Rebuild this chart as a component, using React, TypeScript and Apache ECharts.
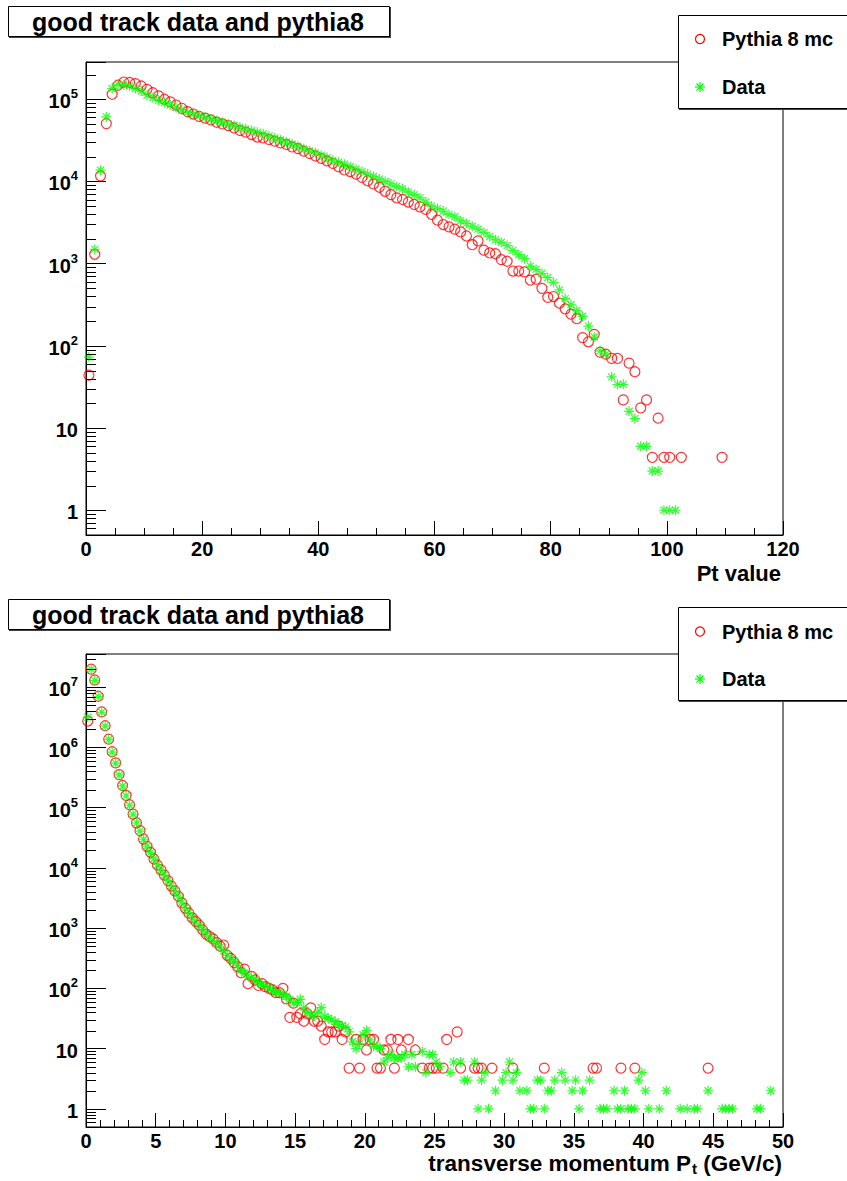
import React, { useEffect, useRef } from 'react';
import * as echarts from 'echarts';

const FONT = '"Liberation Sans", Arial, Helvetica, sans-serif';
const RED = '#ff0000';
const GREEN = '#00ff00';
const W = 847;
const H = 1181;

const titleText = 'good track data and pythia8';
const legendLabels = ['Pythia 8 mc', 'Data'];
const topXTitle = 'Pt value';
const bottomXTitleMain = 'transverse momentum P';
const bottomXTitleSub = 't';
const bottomXTitleEnd = ' (GeV/c)';

const topXRange = [0, 120];
const topXInterval = 20;
const topYRange = [0.5, 2.84e5];
const bottomXRange = [0, 50];
const bottomXInterval = 5;
const bottomYRange = [0.5, 3.57e7];

// Top panel: Pythia 8 MC (bin centre, content)
const topMc: number[][] = [
  [0.5, 44], [1.5, 1300], [2.5, 11700], [3.5, 50600], [4.5, 115000], [5.5, 148000], [6.5, 162000], [7.5, 160000], [8.5, 155000], [9.5, 145000],
  [10.5, 132000], [11.5, 120000], [12.5, 110000], [13.5, 100000], [14.5, 93000], [15.5, 85000], [16.5, 77600], [17.5, 70800], [18.5, 66100], [19.5, 61700],
  [20.5, 58900], [21.5, 56200], [22.5, 52500], [23.5, 50100], [24.5, 47900], [25.5, 44700], [26.5, 41700], [27.5, 39800], [28.5, 37200], [29.5, 34700],
  [30.5, 33900], [31.5, 32400], [32.5, 30900], [33.5, 29500], [34.5, 28200], [35.5, 26300], [36.5, 25100], [37.5, 23400], [38.5, 21900], [39.5, 20400],
  [40.5, 19100], [41.5, 17800], [42.5, 16600], [43.5, 15100], [44.5, 13800], [45.5, 13200], [46.5, 12300], [47.5, 11200], [48.5, 10200], [49.5, 9330],
  [50.5, 8510], [51.5, 7590], [52.5, 6920], [53.5, 6310], [54.5, 6030], [55.5, 5620], [56.5, 5250], [57.5, 4900], [58.5, 4570], [59.5, 3980],
  [60.5, 3390], [61.5, 2990], [62.5, 2800], [63.5, 2630], [64.5, 2430], [65.5, 2170], [66.5, 1700], [67.5, 1890], [68.5, 1460], [69.5, 1350],
  [70.5, 1320], [71.5, 1120], [72.5, 1070], [73.5, 813], [74.5, 813], [75.5, 794], [76.5, 631], [77.5, 646], [78.5, 501], [79.5, 389],
  [80.5, 398], [81.5, 331], [82.5, 282], [83.5, 243], [84.5, 214], [85.5, 126], [86.5, 112], [87.5, 138], [88.5, 83.6], [89.5, 79.2],
  [90.5, 70.4], [91.5, 70.4], [92.5, 22], [93.5, 61.6], [94.5, 48.4], [95.5, 17.6], [96.5, 22], [97.5, 4.4], [98.5, 13.2], [99.5, 4.4],
  [100.5, 4.4], [102.5, 4.4], [109.5, 4.4],
];

// Top panel: Data
const topData: number[][] = [
  [0.5, 73], [1.5, 1490], [2.5, 13700], [3.5, 61000], [4.5, 135000], [5.5, 152000], [6.5, 150000], [7.5, 145000], [8.5, 135000], [9.5, 126000],
  [10.5, 112000], [11.5, 105000], [12.5, 97700], [13.5, 91200], [14.5, 85100], [15.5, 79400], [16.5, 74100], [17.5, 69200], [18.5, 66100], [19.5, 63100],
  [20.5, 60300], [21.5, 57500], [22.5, 55000], [23.5, 52500], [24.5, 50100], [25.5, 47900], [26.5, 45700], [27.5, 43700], [28.5, 41700], [29.5, 39800],
  [30.5, 38000], [31.5, 35900], [32.5, 33900], [33.5, 32000], [34.5, 30200], [35.5, 28500], [36.5, 26900], [37.5, 25100], [38.5, 23700], [39.5, 22400],
  [40.5, 20900], [41.5, 19500], [42.5, 18200], [43.5, 17200], [44.5, 16200], [45.5, 15100], [46.5, 14100], [47.5, 13200], [48.5, 12300], [49.5, 11500],
  [50.5, 10700], [51.5, 10000], [52.5, 9330], [53.5, 8710], [54.5, 8130], [55.5, 7410], [56.5, 6920], [57.5, 6310], [58.5, 5620], [59.5, 5010],
  [60.5, 4680], [61.5, 4370], [62.5, 3980], [63.5, 3720], [64.5, 3310], [65.5, 3090], [66.5, 2850], [67.5, 2630], [68.5, 2400], [69.5, 2140],
  [70.5, 1950], [71.5, 1820], [72.5, 1660], [73.5, 1450], [74.5, 1290], [75.5, 1150], [76.5, 933], [77.5, 851], [78.5, 759], [79.5, 676],
  [80.5, 589], [81.5, 479], [82.5, 376], [83.5, 316], [84.5, 269], [85.5, 229], [86.5, 174], [87.5, 128], [88.5, 87], [89.5, 79],
  [90.5, 42], [91.5, 34], [92.5, 34], [93.5, 16], [94.5, 13], [95.5, 6], [96.5, 6], [97.5, 3], [98.5, 3], [99.5, 1],
  [100.5, 1], [101.5, 1],
];

// Bottom panel: Pythia 8 MC
const bottomMc: number[][] = [
  [0.125, 2.75e6], [0.375, 2.0e7], [0.625, 1.32e7], [0.875, 7.1e6], [1.125, 3.9e6], [1.375, 2.3e6], [1.625, 1.38e6], [1.875, 8.5e5],
  [2.125, 5.56e5], [2.375, 3.55e5], [2.625, 2.34e5], [2.875, 1.6e5], [3.125, 1.12e5], [3.375, 7.85e4], [3.625, 5.62e4], [3.875, 4.17e4],
  [4.125, 3.02e4], [4.375, 2.29e4], [4.625, 1.82e4], [4.875, 1.41e4], [5.125, 1.12e4], [5.375, 9330], [5.625, 7590], [5.875, 6170],
  [6.125, 5010], [6.375, 4170], [6.625, 3390], [6.875, 2630], [7.125, 2140], [7.375, 1780], [7.625, 1480], [7.875, 1290],
  [8.125, 1120], [8.375, 933], [8.625, 794], [8.875, 724], [9.125, 661], [9.375, 575], [9.625, 501], [9.875, 525],
  [10.125, 355], [10.375, 316], [10.625, 269], [10.875, 229], [11.125, 182], [11.375, 209], [11.625, 120], [11.875, 158],
  [12.125, 138], [12.375, 112], [12.625, 120], [12.875, 107], [13.125, 100], [13.375, 95], [13.625, 85], [13.875, 85],
  [14.125, 100], [14.375, 67], [14.625, 33], [14.875, 57], [15.125, 33], [15.375, 38], [15.625, 28.5], [15.875, 38],
  [16.125, 47.5], [16.375, 28.5], [16.625, 28.5], [16.875, 23.7], [17.125, 14.2], [17.375, 19], [17.625, 19], [17.875, 19],
  [18.125, 23.7], [18.375, 14.2], [18.625, 19], [18.875, 4.75], [19.375, 14.2], [19.625, 4.75], [19.875, 14.2],
  [20.125, 9.5], [20.375, 14.2], [20.625, 14.2], [20.875, 4.75], [21.125, 4.75], [21.375, 9.5], [21.625, 9.5], [21.875, 14.2],
  [22.125, 4.75], [22.375, 14.2], [22.625, 9.5], [23.125, 14.2], [23.625, 9.5], [24.125, 4.75], [24.625, 4.75], [24.875, 4.75],
  [25.125, 4.75], [25.625, 4.75], [25.875, 14.2], [26.625, 19], [26.875, 4.75], [27.875, 4.75], [28.125, 4.75], [28.375, 4.75],
  [29.125, 4.75], [30.625, 4.75], [32.875, 4.75], [36.375, 4.75], [36.625, 4.75], [38.375, 4.75], [39.375, 4.75], [44.625, 4.75],
];

// Bottom panel: Data
const bottomData: number[][] = [
  [0.125, 3.2e6], [0.375, 2.0e7], [0.625, 1.3e7], [0.875, 7.0e6], [1.125, 3.85e6], [1.375, 2.28e6], [1.625, 1.36e6], [1.875, 8.4e5],
  [2.125, 5.5e5], [2.375, 3.5e5], [2.625, 2.3e5], [2.875, 1.58e5], [3.125, 1.1e5], [3.375, 7.8e4], [3.625, 5.6e4], [3.875, 4.1e4],
  [4.125, 3.0e4], [4.375, 2.3e4], [4.625, 1.8e4], [4.875, 1.42e4], [5.125, 1.13e4], [5.375, 9200], [5.625, 7600], [5.875, 6200],
  [6.125, 5000], [6.375, 4100], [6.625, 3400], [6.875, 2700], [7.125, 2200], [7.375, 1800], [7.625, 1500], [7.875, 1280],
  [8.125, 1100], [8.375, 950], [8.625, 820], [8.875, 710], [9.125, 620], [9.375, 560], [9.625, 480], [9.875, 420],
  [10.125, 355], [10.375, 300], [10.625, 285], [10.875, 240], [11.125, 200], [11.375, 180], [11.625, 160], [11.875, 150],
  [12.125, 141], [12.375, 125], [12.625, 115], [12.875, 108], [13.125, 104], [13.375, 92], [13.625, 85], [13.875, 87],
  [14.125, 78], [14.375, 74], [14.625, 65], [14.875, 57], [15.125, 58], [15.375, 66], [15.625, 48], [15.875, 40],
  [16.125, 36], [16.375, 35], [16.625, 40], [16.875, 48], [17.125, 34], [17.375, 32], [17.625, 30], [17.875, 28],
  [18.125, 25], [18.375, 24], [18.625, 23], [18.875, 19], [19.125, 13], [19.375, 10], [19.625, 12], [19.875, 17],
  [20.125, 20], [20.375, 14], [20.625, 11], [20.875, 11], [21.125, 10], [21.375, 6], [21.625, 7], [21.875, 8],
  [22.125, 7], [22.375, 7], [22.625, 7], [22.875, 8], [23.125, 5], [23.375, 8], [23.625, 5], [24.125, 9],
  [24.375, 4], [24.625, 8], [24.875, 8], [25.125, 6], [25.375, 5], [26.125, 4], [26.375, 6], [26.875, 6],
  [27.125, 3], [27.375, 3], [27.875, 6], [28.125, 1], [28.375, 3], [28.625, 4], [28.875, 1], [29.375, 2],
  [29.875, 3], [30.125, 4], [30.375, 6], [30.625, 3], [30.875, 4], [31.125, 2], [31.625, 2], [31.875, 1],
  [32.125, 1], [32.375, 3], [32.625, 3], [32.875, 1], [33.125, 2], [33.375, 2], [33.625, 3], [34.125, 4],
  [34.375, 3], [34.875, 2], [35.125, 3], [35.375, 1], [35.625, 2], [36.125, 3], [36.875, 1], [37.125, 1],
  [37.375, 1], [37.875, 2], [38.125, 1], [38.375, 1], [38.625, 2], [38.875, 1], [39.125, 1], [39.375, 1],
  [39.625, 3], [39.875, 4], [40.125, 2], [40.375, 1], [41.125, 1], [41.625, 2], [42.625, 1], [43.125, 1],
  [43.625, 1], [43.875, 1], [44.625, 2], [45.625, 1], [45.875, 1], [46.125, 1], [46.375, 1], [48.125, 1],
  [48.375, 1], [49.125, 2],
];

const STAR = 'path://M5 0L5 10M0 5L10 5M1.5 1.5L8.5 8.5M8.5 1.5L1.5 8.5';

const GRIDS = [
  { left: 86, top: 62, width: 697, height: 473 },
  { left: 86, top: 654, width: 697, height: 473 },
];

function yLabel(v: number): string {
  const e = Math.round(Math.log10(v));
  if (Math.abs(v - Math.pow(10, e)) / v > 1e-6) return '';
  if (e === 0) return '{b|1}';
  if (e === 1) return '{b|10}';
  return `{b|10}{s|${e}}`;
}

function xAxisOpt(gridIndex: number, range: number[], interval: number, minorSplit: number) {
  return {
    gridIndex,
    type: 'value',
    min: range[0],
    max: range[1],
    interval,
    axisLine: { show: true, onZero: false, lineStyle: { color: '#000', width: 1 } },
    axisTick: { show: true, inside: true, length: 14, lineStyle: { color: '#000', width: 1 } },
    minorTick: { show: true, splitNumber: minorSplit, length: 7, lineStyle: { color: '#000', width: 1 } },
    splitLine: { show: false },
    minorSplitLine: { show: false },
    axisLabel: { fontSize: 20, fontWeight: 'bold', fontFamily: FONT, color: '#000', margin: 6, lineHeight: 15 },
  };
}

function yAxisOpt(gridIndex: number, range: number[]) {
  return {
    gridIndex,
    type: 'log',
    logBase: 10,
    min: range[0],
    max: range[1],
    axisLine: { show: true, lineStyle: { color: '#000', width: 1 } },
    axisTick: { show: true, inside: true, length: 20, lineStyle: { color: '#000', width: 1 } },
    minorTick: { show: false },
    splitLine: { show: false },
    axisLabel: {
      margin: 8,
      color: '#000',
      formatter: yLabel,
      rich: {
        b: { fontSize: 20, fontWeight: 'bold', fontFamily: FONT, color: '#000', lineHeight: 24, verticalAlign: 'bottom', padding: [4, 0, 0, 0] },
        s: { fontSize: 13, fontWeight: 'bold', fontFamily: FONT, color: '#000', lineHeight: 14, verticalAlign: 'top' },
      },
    },
  };
}

function mcSeries(data: number[][], idx: number) {
  return {
    name: legendLabels[0],
    type: 'scatter',
    xAxisIndex: idx,
    yAxisIndex: idx,
    data,
    symbol: 'circle',
    symbolSize: 10,
    itemStyle: { color: 'rgba(0,0,0,0)', borderColor: RED, borderWidth: 1.2 },
    z: 3,
  };
}

function dataSeries(data: number[][], idx: number) {
  return {
    name: legendLabels[1],
    type: 'scatter',
    xAxisIndex: idx,
    yAxisIndex: idx,
    data,
    symbol: STAR,
    symbolSize: 10,
    itemStyle: { color: 'rgba(0,0,0,0)', borderColor: GREEN, borderWidth: 1.2 },
    z: 4,
  };
}

function titleBox(top: number): any[] {
  return [
    { type: 'rect', z: 100, shape: { x: 9, y: top + 1, width: 382, height: 31 }, style: { fill: '#444', stroke: 'none' } },
    { type: 'rect', z: 101, shape: { x: 8.5, y: top + 0.5, width: 381, height: 30 }, style: { fill: '#fff', stroke: '#000', lineWidth: 1 } },
    {
      type: 'text', z: 102,
      style: { text: titleText, x: 198, y: top + 15.5, textAlign: 'center', textVerticalAlign: 'middle', verticalAlign: 'middle', fontSize: 25, fontWeight: 'bold', fontFamily: FONT, fill: '#000' },
    },
  ];
}

function legendBox(top: number, row1: number, row2: number): any[] {
  const cx = 700;
  const r = 4.5;
  const s = 5;
  return [
    { type: 'rect', z: 100, shape: { x: 679, y: top + 1, width: 200, height: 94 }, style: { fill: '#444', stroke: 'none' } },
    { type: 'rect', z: 101, shape: { x: 678.5, y: top + 0.5, width: 200, height: 93 }, style: { fill: '#fff', stroke: '#000', lineWidth: 1 } },
    { type: 'circle', z: 102, shape: { cx, cy: row1, r }, style: { fill: 'none', stroke: RED, lineWidth: 1.2 } },
    { type: 'line', z: 102, shape: { x1: cx, y1: row2 - s, x2: cx, y2: row2 + s }, style: { stroke: GREEN, lineWidth: 1.2 } },
    { type: 'line', z: 102, shape: { x1: cx - s, y1: row2, x2: cx + s, y2: row2 }, style: { stroke: GREEN, lineWidth: 1.2 } },
    { type: 'line', z: 102, shape: { x1: cx - 3.5, y1: row2 - 3.5, x2: cx + 3.5, y2: row2 + 3.5 }, style: { stroke: GREEN, lineWidth: 1.2 } },
    { type: 'line', z: 102, shape: { x1: cx + 3.5, y1: row2 - 3.5, x2: cx - 3.5, y2: row2 + 3.5 }, style: { stroke: GREEN, lineWidth: 1.2 } },
    {
      type: 'text', z: 102,
      style: { text: legendLabels[0], x: 722, y: row1, textVerticalAlign: 'middle', verticalAlign: 'middle', fontSize: 20, fontWeight: 'bold', fontFamily: FONT, fill: '#000' },
    },
    {
      type: 'text', z: 102,
      style: { text: legendLabels[1], x: 722, y: row2, textVerticalAlign: 'middle', verticalAlign: 'middle', fontSize: 20, fontWeight: 'bold', fontFamily: FONT, fill: '#000' },
    },
  ];
}

export default function App() {
  const ref = useRef<HTMLDivElement>(null);

  useEffect(() => {
    document.body.style.margin = '0';
    const el = ref.current;
    if (!el) return;
    const chart = echarts.init(el, undefined, { renderer: 'svg', width: W, height: H });

    const option: any = {
      animation: false,
      backgroundColor: '#fff',
      textStyle: { fontFamily: FONT },
      grid: GRIDS.map((g) => ({ ...g, show: true, borderColor: '#000', borderWidth: 1, backgroundColor: 'transparent', containLabel: false })),
      xAxis: [
        xAxisOpt(0, topXRange, topXInterval, 4),
        xAxisOpt(1, bottomXRange, bottomXInterval, 5),
      ],
      yAxis: [yAxisOpt(0, topYRange), yAxisOpt(1, bottomYRange)],
      series: [
        mcSeries(topMc, 0),
        dataSeries(topData, 0),
        mcSeries(bottomMc, 1),
        dataSeries(bottomData, 1),
      ],
    };
    chart.setOption(option);

    const graphics: any[] = [];
    // Log minor ticks (2..9 x 10^n) placed through the axis scale
    const yRanges = [topYRange, bottomYRange];
    yRanges.forEach((range, gi) => {
      const left = GRIDS[gi].left;
      for (let e = -1; e <= 8; e++) {
        for (let k = 2; k <= 9; k++) {
          const v = k * Math.pow(10, e);
          if (v <= range[0] || v >= range[1]) continue;
          const y = chart.convertToPixel({ yAxisIndex: gi } as any, v) as unknown as number;
          if (typeof y !== 'number' || isNaN(y)) continue;
          const yy = Math.round(y) + 0.5;
          graphics.push({ type: 'line', z: 50, silent: true, shape: { x1: left, y1: yy, x2: left + 10, y2: yy }, style: { stroke: '#000', lineWidth: 1 } });
        }
      }
    });

    graphics.push(...titleBox(6));
    graphics.push(...titleBox(599));
    graphics.push(...legendBox(15, 39, 87));
    graphics.push(...legendBox(607, 631.5, 679));

    graphics.push({
      type: 'text', z: 102,
      style: { text: topXTitle, x: 781, y: 573, textAlign: 'right', textVerticalAlign: 'middle', verticalAlign: 'middle', fontSize: 22, fontWeight: 'bold', fontFamily: FONT, fill: '#000' },
    });
    graphics.push({
      type: 'text', z: 102,
      style: {
        text: `{n|${bottomXTitleMain}}{u|${bottomXTitleSub}}{n|${bottomXTitleEnd}}`,
        x: 782, y: 1152, textAlign: 'right', textVerticalAlign: 'top', verticalAlign: 'top',
        fontSize: 22.5, fontWeight: 'bold', fontFamily: FONT, fill: '#000',
        rich: {
          n: { fontSize: 22.5, fontWeight: 'bold', fontFamily: FONT, fill: '#000', color: '#000', lineHeight: 21, verticalAlign: 'top' },
          u: { fontSize: 15, fontWeight: 'bold', fontFamily: FONT, fill: '#000', color: '#000', lineHeight: 15, verticalAlign: 'top', padding: [9, 0, 0, 1] },
        },
      },
    });

    chart.setOption({ graphic: graphics });

    return () => {
      chart.dispose();
    };
  }, []);

  return <div ref={ref} style={{ position: 'absolute', left: 0, top: 0, width: W, height: H }} />;
}
